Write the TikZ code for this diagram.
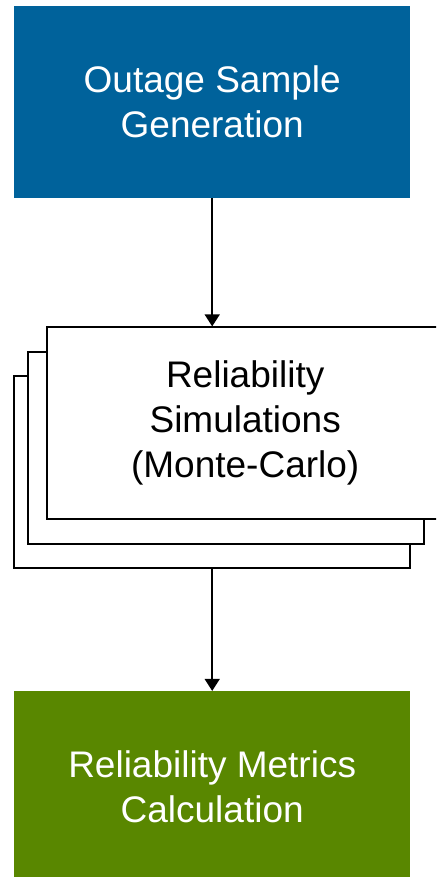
\documentclass[tikz,border=0pt]{standalone}
\usepackage{fontspec}
\setmainfont{Liberation Sans}
\usepackage{tikz}
\usetikzlibrary{arrows.meta, positioning}
\definecolor{outageblue}{RGB}{0,98,155}
\definecolor{metricsgreen}{RGB}{89,135,0}

\begin{document}
\begin{tikzpicture}[
    x=1pt, y=1pt,
    >={Triangle[length=12pt,width=15pt]},
    block/.style={
        rectangle,
        align=center,
        minimum width=396pt,
        minimum height=192pt,
        inner sep=0pt,
        font=\fontsize{37}{45}\selectfont
    },
    outageblock/.style={
        block,
        fill=outageblue,
        text=white
    },
    simblock/.style={
        block,
        draw=black,
        line width=1.5pt,
        fill=white
    },
    metricsblock/.style={
        block,
        fill=metricsgreen,
        text=white
    },
    line/.style={draw, ->, line width=1.5pt}
]
\path[use as bounding box, clip] (0,0) rectangle (436,-877);

% Main blocks
\node[outageblock, anchor=north west] (outage) at (14,-6) {Outage Sample\\Generation};

\node[simblock, below=177pt of outage] (sim3) {};
\node[simblock, xshift=14pt, yshift=24pt] (sim2) at (sim3) {};
\node[simblock, xshift=19pt, yshift=25pt] (sim1) at (sim2) {Reliability\\Simulations\\(Monte-Carlo)};

\node[metricsblock, below=122pt of sim3] (metrics) {Reliability Metrics\\Calculation};

% Flow arrows
\draw[line] (outage.south) -- (outage.south |- sim1.north);
\draw[line] (sim3.south) -- (metrics.north);

\end{tikzpicture}
\end{document}
